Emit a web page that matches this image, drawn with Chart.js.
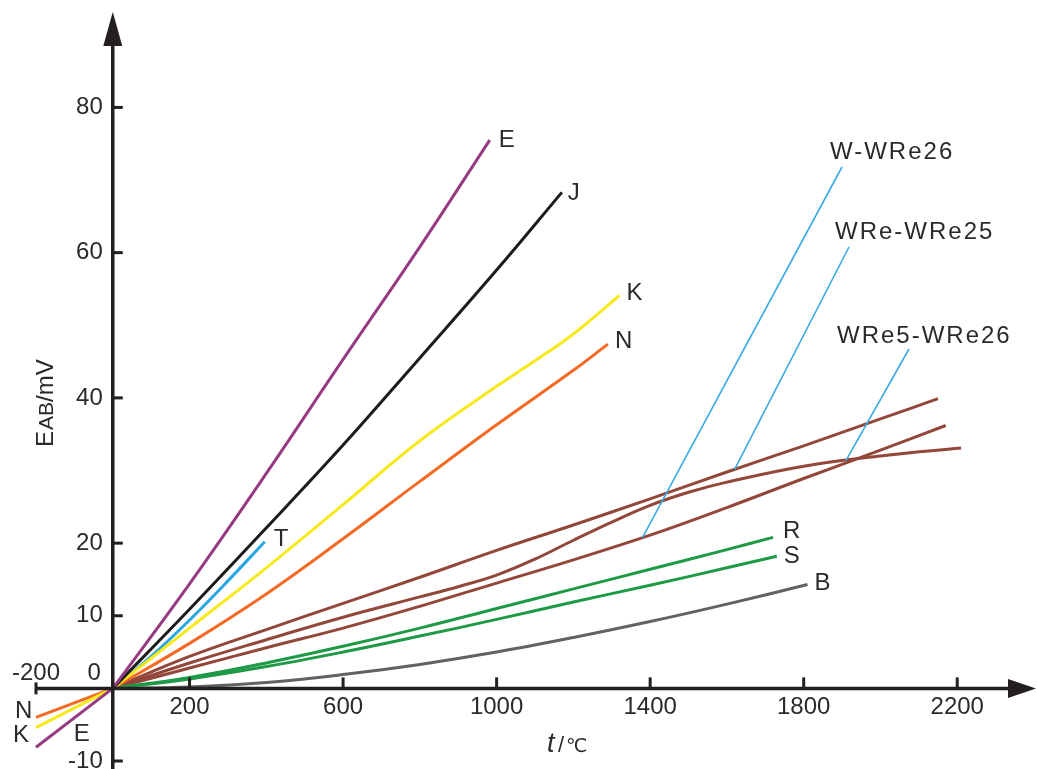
<!DOCTYPE html>
<html><head><meta charset="utf-8">
<script src="https://cdn.jsdelivr.net/npm/chart.js@4.4.0/dist/chart.umd.min.js"></script>
<style>html,body{margin:0;padding:0;background:#fff;}#wrap{width:1037px;height:769px;position:relative;}</style>
</head><body><div id="wrap"><canvas id="c"></canvas></div>
<script>
// ---- data (temperature °C, EMF mV) ----
const xTicks = [200, 600, 1000, 1400, 1800, 2200];
const yTicks = [-10, 10, 20, 40, 60, 80];

const tE = [-200, 0, 200, 400, 600, 800, 982];
const vE = [-8.1, 0, 14.4, 29.6, 45.3, 60.8, 75.5];
const tJ = [0, 200, 400, 600, 800, 1000, 1170];
const vJ = [0, 10.9, 22.1, 33.5, 45.5, 57.6, 68.3];
const tK = [-200, 0, 200, 400, 600, 800, 1000, 1100, 1200, 1320];
const vK = [-5.4, 0, 8.3, 16.6, 25.3, 34.1, 41.6, 45.1, 48.8, 54.1];
const tN = [-200, 0, 200, 400, 600, 800, 1000, 1200, 1290];
const vN = [-4.0, 0, 6.2, 13.0, 20.6, 28.5, 36.3, 43.8, 47.4];
const tT = [0, 100, 200, 300, 396];
const vT = [0, 4.4, 9.4, 14.8, 20.2];
const tR = [0, 200, 400, 600, 800, 1000, 1200, 1400, 1600, 1720];
const vR = [0, 1.5, 3.5, 5.8, 8.3, 11.0, 13.7, 16.4, 19.1, 20.8];
const tS = [0, 200, 400, 600, 800, 1000, 1200, 1400, 1600, 1730];
const vS = [0, 1.3, 3.0, 5.0, 7.2, 9.5, 11.9, 14.2, 16.6, 18.2];
const tB = [0, 200, 400, 600, 800, 1000, 1200, 1400, 1600, 1810];
const vB = [0, 0.2, 0.8, 1.9, 3.3, 5.0, 7.0, 9.2, 11.6, 14.3];
const tW25 = [0, 200, 400, 600, 800, 1000, 1200, 1400, 1600, 1800, 2000, 2150];
const vW25 = [0, 4.4, 8.1, 11.7, 15.3, 19.0, 22.5, 26.1, 29.8, 33.4, 37.1, 39.9];
const tW526 = [0, 200, 400, 600, 800, 900, 1000, 1100, 1200, 1300, 1400, 1500, 1600, 1800, 2000, 2210];
const vW526 = [0, 3.5, 6.7, 9.8, 12.6, 14.0, 15.6, 17.8, 20.4, 22.9, 25.2, 27.0, 28.4, 30.6, 32.0, 33.1];
const tW26 = [0, 200, 400, 600, 800, 1000, 1200, 1400, 1600, 1800, 2000, 2170];
const vW26 = [0, 2.8, 5.6, 8.3, 11.3, 14.5, 17.7, 21.1, 24.9, 28.9, 32.8, 36.2];

const series = [
  {name: 'E', t: tE, v: vE, color: '#963a82', lab: [9, 0]},
  {name: 'J', t: tJ, v: vJ, color: '#1c1c1c', lab: [6, 1]},
  {name: 'K', t: tK, v: vK, color: '#f7e91c', lab: [7, -2]},
  {name: 'N', t: tN, v: vN, color: '#f26a24', lab: [7, -3]},
  {name: 'T', t: tT, v: vT, color: '#2aa6e2', lab: [9, -2]},
  {name: 'R', t: tR, v: vR, color: '#1e9a46', lab: [10, -6]},
  {name: 'S', t: tS, v: vS, color: '#1e9a46', lab: [7, 0]},
  {name: 'B', t: tB, v: vB, color: '#626262', lab: [7, -1]},
  {name: 'WRe-WRe25', t: tW25, v: vW25, color: '#93473a', lab: null},
  {name: 'WRe5-WRe26', t: tW526, v: vW526, color: '#93473a', lab: null},
  {name: 'W-WRe26', t: tW26, v: vW26, color: '#93473a', lab: null}
];

// each curve: a straight branch below 0 °C and a smooth branch above it
const datasets = [];
series.forEach(s => {
  const neg = [], pos = [];
  s.t.forEach((x, i) => {
    if (x <= 0) neg.push({x: x, y: s.v[i]});
    if (x >= 0) pos.push({x: x, y: s.v[i]});
  });
  const base = {borderColor: s.color, borderWidth: 3, pointRadius: 0, fill: false, clip: false};
  if (neg.length > 1) datasets.push(Object.assign({label: s.name + ' (<0)', data: neg, tension: 0}, base));
  datasets.push(Object.assign({label: s.name, data: pos, tension: 0.4}, base));
});

const FONT = "'Liberation Sans', Arial, 'DejaVu Sans', sans-serif";
const TXT = '#2a2a2a';
const AX = '#231f20';

const overlay = {
  id: 'overlay',
  afterDatasetsDraw(chart) {
    const ctx = chart.ctx, xs = chart.scales.x, ys = chart.scales.y;
    const X = v => xs.getPixelForValue(v), Y = v => ys.getPixelForValue(v);
    const x0 = X(0), y0 = Y(0);
    ctx.save();
    // leader lines for tungsten-rhenium curves
    ctx.strokeStyle = '#3aa9e4'; ctx.lineWidth = 1.6;
    const leaders = [
      {from: [842, 167], at: [1380, 'W-WRe26']},
      {from: [849, 247], at: [1620, 'WRe-WRe25']},
      {from: [909, 349], at: [1910, 'WRe5-WRe26']}
    ];
    leaders.forEach(L => {
      const s = series.find(q => q.name === L.at[1]);
      const xv = L.at[0];
      let k = 0; while (k < s.t.length - 2 && s.t[k + 1] < xv) k++;
      const f = (xv - s.t[k]) / (s.t[k + 1] - s.t[k]);
      const yv = s.v[k] + f * (s.v[k + 1] - s.v[k]);
      ctx.beginPath(); ctx.moveTo(L.from[0], L.from[1]); ctx.lineTo(X(xv), Y(yv)); ctx.stroke();
    });
    // axes
    ctx.strokeStyle = AX; ctx.fillStyle = AX; ctx.lineWidth = 3.5; ctx.lineCap = 'butt';
    ctx.beginPath(); ctx.moveTo(x0, chart.height); ctx.lineTo(x0, 44); ctx.stroke();
    ctx.beginPath(); ctx.moveTo(x0, 12); ctx.lineTo(x0 - 9.5, 46); ctx.lineTo(x0 + 9.5, 46); ctx.closePath(); ctx.fill();
    const xr = X(2400) + 2;
    ctx.beginPath(); ctx.moveTo(X(-200), y0); ctx.lineTo(xr - 26, y0); ctx.stroke();
    ctx.beginPath(); ctx.moveTo(xr, y0); ctx.lineTo(xr - 28, y0 - 9.5); ctx.lineTo(xr - 28, y0 + 9.5); ctx.closePath(); ctx.fill();
    // ticks
    ctx.lineWidth = 3;
    xTicks.forEach(v => { ctx.beginPath(); ctx.moveTo(X(v), y0); ctx.lineTo(X(v), y0 - 11); ctx.stroke(); });
    yTicks.forEach(v => { ctx.beginPath(); ctx.moveTo(x0, Y(v)); ctx.lineTo(x0 + 10, Y(v)); ctx.stroke(); });
    ctx.beginPath(); ctx.moveTo(X(-200), y0 - 6); ctx.lineTo(X(-200), y0 + 6); ctx.stroke();
    // tick labels
    ctx.fillStyle = TXT; ctx.font = '24px ' + FONT;
    ctx.textAlign = 'center'; ctx.textBaseline = 'middle';
    xTicks.forEach(v => ctx.fillText(String(v), X(v), y0 + 19));
    ctx.textAlign = 'right';
    yTicks.forEach(v => ctx.fillText(String(v), x0 - 10, Y(v)));
    ctx.fillText('0', x0 - 12, y0 - 15);
    ctx.textAlign = 'center';
    ctx.fillText('-200', X(-200), y0 - 15);
    // series end labels
    ctx.textAlign = 'left';
    series.forEach(s => {
      if (!s.lab) return;
      const n = s.t.length - 1;
      ctx.fillText(s.name, X(s.t[n]) + s.lab[0], Y(s.v[n]) + s.lab[1]);
    });
    // negative-side labels
    ctx.textAlign = 'left';
    ctx.fillText('N', X(-200) - 21, Y(vN[0]) - 6);
    ctx.fillText('K', X(-200) - 23, Y(vK[0]) + 8);
    ctx.fillText('E', x0 - 39, Y(vE[0]) - 13);
    // W-Re labels
    ctx.letterSpacing = '2px';
    ctx.fillText('W-WRe26', 830, 152);
    ctx.fillText('WRe-WRe25', 835, 232);
    ctx.fillText('WRe5-WRe26', 837, 336);
    ctx.letterSpacing = '0px';
    // x-axis title
    ctx.textBaseline = 'alphabetic';
    ctx.font = 'italic 27px ' + FONT;
    ctx.fillText('t', 547, 752);
    ctx.font = '22px ' + FONT;
    ctx.fillText('/', 558, 752);
    ctx.font = '19px ' + FONT;
    ctx.fillText('℃', 566, 752);
    // y-axis title
    ctx.save();
    ctx.translate(53, 447); ctx.rotate(-Math.PI / 2);
    ctx.font = '24px ' + FONT; ctx.fillText('E', 0, 0);
    let w = ctx.measureText('E').width + 1;
    ctx.font = '21px ' + FONT; ctx.fillText('AB', w, 0);
    w += ctx.measureText('AB').width;
    ctx.font = '24px ' + FONT; ctx.fillText('/mV', w, 0);
    ctx.restore();
    ctx.restore();
  }
};

new Chart(document.getElementById('c'), {
  type: 'line',
  data: {datasets: datasets},
  options: {
    responsive: true, maintainAspectRatio: false, animation: false,
    layout: {padding: {left: 36, right: 3, top: 13, bottom: 8}},
    plugins: {legend: {display: false}, tooltip: {enabled: false}},
    scales: {
      x: {type: 'linear', min: -200, max: 2400, display: false},
      y: {type: 'linear', min: -10, max: 93, display: false}
    }
  },
  plugins: [overlay]
});
</script></body></html>
